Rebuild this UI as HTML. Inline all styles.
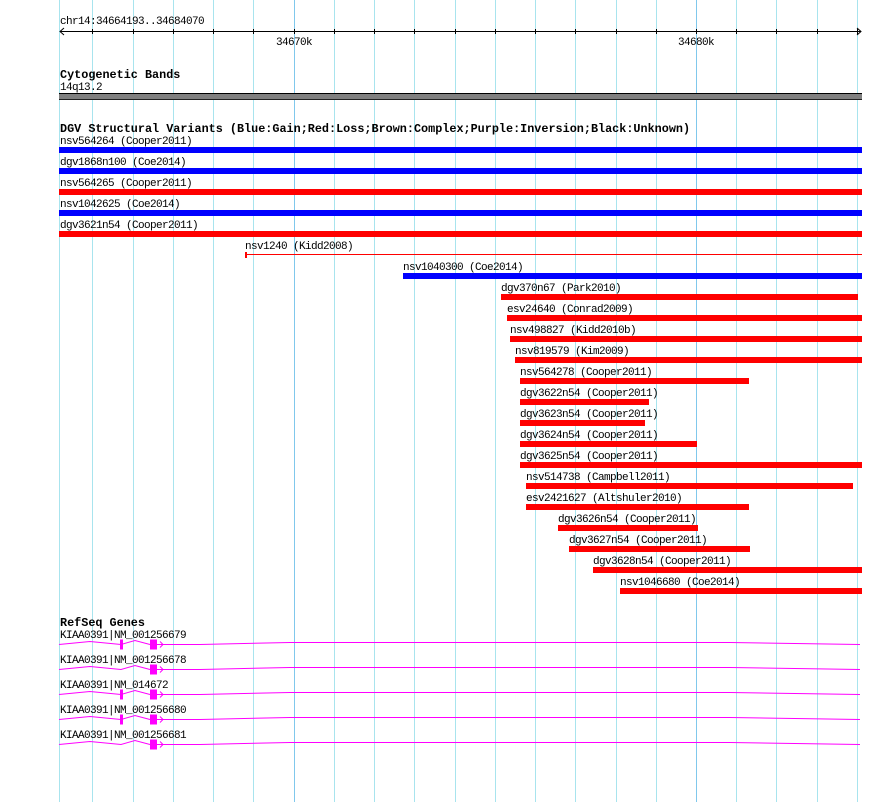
<!DOCTYPE html>
<html><head><meta charset="utf-8"><style>
html,body{margin:0;padding:0;background:#fff;}
svg{display:block;}
text{font-family:"Liberation Mono","DejaVu Sans Mono",monospace;font-size:11px;letter-spacing:-0.6px;fill:#000;}
.b{font-weight:bold;font-size:11.8px;letter-spacing:0px;}
</style></head><body>
<svg width="890" height="802" xmlns="http://www.w3.org/2000/svg">
<g stroke="#a8e4ee" stroke-width="1">
<line x1="59.5" y1="0" x2="59.5" y2="802"/>
<line x1="92.5" y1="0" x2="92.5" y2="802"/>
<line x1="133.5" y1="0" x2="133.5" y2="802"/>
<line x1="173.5" y1="0" x2="173.5" y2="802"/>
<line x1="213.5" y1="0" x2="213.5" y2="802"/>
<line x1="253.5" y1="0" x2="253.5" y2="802"/>
<line x1="334.5" y1="0" x2="334.5" y2="802"/>
<line x1="374.5" y1="0" x2="374.5" y2="802"/>
<line x1="414.5" y1="0" x2="414.5" y2="802"/>
<line x1="455.5" y1="0" x2="455.5" y2="802"/>
<line x1="495.5" y1="0" x2="495.5" y2="802"/>
<line x1="535.5" y1="0" x2="535.5" y2="802"/>
<line x1="575.5" y1="0" x2="575.5" y2="802"/>
<line x1="616.5" y1="0" x2="616.5" y2="802"/>
<line x1="656.5" y1="0" x2="656.5" y2="802"/>
<line x1="736.5" y1="0" x2="736.5" y2="802"/>
<line x1="776.5" y1="0" x2="776.5" y2="802"/>
<line x1="817.5" y1="0" x2="817.5" y2="802"/>
<line x1="857.5" y1="0" x2="857.5" y2="802"/>
</g>
<g stroke="#80c8ec"><line x1="294.5" y1="0" x2="294.5" y2="802"/><line x1="696.5" y1="0" x2="696.5" y2="802"/></g>
<text x="60" y="24">chr14:34664193..34684070</text>
<g stroke="#000" stroke-width="1">
<line x1="60" y1="31.5" x2="861" y2="31.5"/>
<polyline points="64,28 60,31.5 64,35" fill="none"/>
<polyline points="857,28 861,31.5 857,35" fill="none"/>
<line x1="92.5" y1="29" x2="92.5" y2="34"/><line x1="133.5" y1="29" x2="133.5" y2="34"/>
<line x1="173.5" y1="29" x2="173.5" y2="34"/><line x1="213.5" y1="29" x2="213.5" y2="34"/>
<line x1="253.5" y1="29" x2="253.5" y2="34"/><line x1="294.5" y1="29" x2="294.5" y2="34"/>
<line x1="334.5" y1="29" x2="334.5" y2="34"/><line x1="374.5" y1="29" x2="374.5" y2="34"/>
<line x1="414.5" y1="29" x2="414.5" y2="34"/><line x1="455.5" y1="29" x2="455.5" y2="34"/>
<line x1="495.5" y1="29" x2="495.5" y2="34"/><line x1="535.5" y1="29" x2="535.5" y2="34"/>
<line x1="575.5" y1="29" x2="575.5" y2="34"/><line x1="616.5" y1="29" x2="616.5" y2="34"/>
<line x1="656.5" y1="29" x2="656.5" y2="34"/><line x1="696.5" y1="29" x2="696.5" y2="34"/>
<line x1="736.5" y1="29" x2="736.5" y2="34"/><line x1="776.5" y1="29" x2="776.5" y2="34"/>
<line x1="817.5" y1="29" x2="817.5" y2="34"/><line x1="857.5" y1="29" x2="857.5" y2="34"/>
</g>
<text x="276" y="45">34670k</text>
<text x="678" y="45">34680k</text>
<text class="b" x="60" y="78">Cytogenetic Bands</text>
<text x="60" y="90">14q13.2</text>
<rect x="59" y="93" width="803" height="7" fill="#808080"/>
<rect x="59" y="93" width="803" height="1" fill="#000"/>
<rect x="59" y="99" width="803" height="1" fill="#222"/>
<text class="b" x="60" y="132">DGV Structural Variants (Blue:Gain;Red:Loss;Brown:Complex;Purple:Inversion;Black:Unknown)</text>
<text x="60" y="144">nsv564264 (Cooper2011)</text><rect x="59" y="147" width="803" height="6" fill="#0000ff"/>
<text x="60" y="165">dgv1868n100 (Coe2014)</text><rect x="59" y="168" width="803" height="6" fill="#0000ff"/>
<text x="60" y="186">nsv564265 (Cooper2011)</text><rect x="59" y="189" width="803" height="6" fill="#ff0000"/>
<text x="60" y="207">nsv1042625 (Coe2014)</text><rect x="59" y="210" width="803" height="6" fill="#0000ff"/>
<text x="60" y="228">dgv3621n54 (Cooper2011)</text><rect x="59" y="231" width="803" height="6" fill="#ff0000"/>
<text x="245" y="249">nsv1240 (Kidd2008)</text><rect x="246" y="254" width="616" height="1" fill="#ff0000"/><rect x="245" y="252" width="2" height="6" fill="#ff0000"/>
<text x="403" y="270">nsv1040300 (Coe2014)</text><rect x="403" y="273" width="459" height="6" fill="#0000ff"/>
<text x="501" y="291">dgv370n67 (Park2010)</text><rect x="501" y="294" width="357" height="6" fill="#ff0000"/>
<text x="507" y="312">esv24640 (Conrad2009)</text><rect x="507" y="315" width="355" height="6" fill="#ff0000"/>
<text x="510" y="333">nsv498827 (Kidd2010b)</text><rect x="510" y="336" width="352" height="6" fill="#ff0000"/>
<text x="515" y="354">nsv819579 (Kim2009)</text><rect x="515" y="357" width="347" height="6" fill="#ff0000"/>
<text x="520" y="375">nsv564278 (Cooper2011)</text><rect x="520" y="378" width="229" height="6" fill="#ff0000"/>
<text x="520" y="396">dgv3622n54 (Cooper2011)</text><rect x="520" y="399" width="129" height="6" fill="#ff0000"/>
<text x="520" y="417">dgv3623n54 (Cooper2011)</text><rect x="520" y="420" width="125" height="6" fill="#ff0000"/>
<text x="520" y="438">dgv3624n54 (Cooper2011)</text><rect x="520" y="441" width="177" height="6" fill="#ff0000"/>
<text x="520" y="459">dgv3625n54 (Cooper2011)</text><rect x="520" y="462" width="342" height="6" fill="#ff0000"/>
<text x="526" y="480">nsv514738 (Campbell2011)</text><rect x="526" y="483" width="327" height="6" fill="#ff0000"/>
<text x="526" y="501">esv2421627 (Altshuler2010)</text><rect x="526" y="504" width="223" height="6" fill="#ff0000"/>
<text x="558" y="522">dgv3626n54 (Cooper2011)</text><rect x="558" y="525" width="140" height="6" fill="#ff0000"/>
<text x="569" y="543">dgv3627n54 (Cooper2011)</text><rect x="569" y="546" width="181" height="6" fill="#ff0000"/>
<text x="593" y="564">dgv3628n54 (Cooper2011)</text><rect x="593" y="567" width="269" height="6" fill="#ff0000"/>
<text x="620" y="585">nsv1046680 (Coe2014)</text><rect x="620" y="588" width="242" height="6" fill="#ff0000"/>
<text class="b" x="60" y="626">RefSeq Genes</text>
<defs>
<g id="g1" fill="none" stroke="#ff00ff" stroke-width="1">
<polyline points="59,0 90,-3 121,0 135,-4 150,0"/>
<polyline points="157,0 200,0 290,-2 730,-2 860,0"/>
<polyline points="160,-3 163,0 160,3"/>
</g>
</defs>
<g transform="translate(0,644.5)"><use href="#g1"/><rect x="120" y="-5" width="3" height="10" fill="#ff00ff"/><rect x="150" y="-5" width="7" height="10" fill="#ff00ff"/></g>
<text x="60" y="638">KIAA0391|NM_001256679</text>
<g transform="translate(0,669.5)"><use href="#g1"/><rect x="150" y="-5" width="7" height="10" fill="#ff00ff"/></g>
<text x="60" y="663">KIAA0391|NM_001256678</text>
<g transform="translate(0,694.5)"><use href="#g1"/><rect x="120" y="-5" width="3" height="10" fill="#ff00ff"/><rect x="150" y="-5" width="7" height="10" fill="#ff00ff"/></g>
<text x="60" y="688">KIAA0391|NM_014672</text>
<g transform="translate(0,719.5)"><use href="#g1"/><rect x="120" y="-5" width="3" height="10" fill="#ff00ff"/><rect x="150" y="-5" width="7" height="10" fill="#ff00ff"/></g>
<text x="60" y="713">KIAA0391|NM_001256680</text>
<g transform="translate(0,744.5)"><use href="#g1"/><rect x="150" y="-5" width="7" height="10" fill="#ff00ff"/></g>
<text x="60" y="738">KIAA0391|NM_001256681</text>
</svg>
</body></html>
